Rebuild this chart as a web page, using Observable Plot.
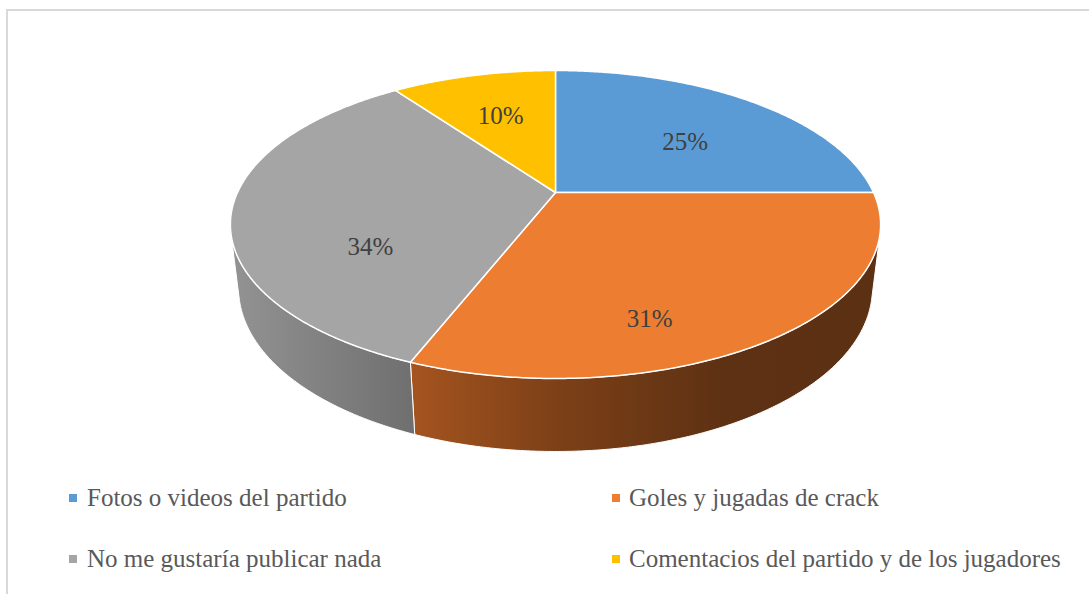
<!DOCTYPE html>
<html>
<head>
<meta charset="utf-8">
<script src="https://cdn.jsdelivr.net/npm/d3@7"></script>
<script src="https://cdn.jsdelivr.net/npm/@observablehq/plot@0.6"></script>
<style>
  html, body { margin: 0; padding: 0; background: #fff; }
  #wrap { position: relative; width: 1089px; height: 594px; overflow: hidden; background: #fff; }
  #frame { position: absolute; left: 6px; top: 9px; width: 1200px; height: 700px; border: 2px solid #D9D9D9; box-sizing: border-box; }
  #chart { position: absolute; left: 0; top: 0; }
  #chart svg text { font-family: "Liberation Serif", "Times New Roman", serif; }
  .leg { position: absolute; font-family: "Liberation Serif", "Times New Roman", serif; font-size: 25px; color: #595959; white-space: nowrap; line-height: 1; }
  .sw { position: absolute; width: 8px; height: 8px; }
</style>
</head>
<body>
<div id="wrap">
  <div id="frame"></div>
  <div id="chart"></div>
  <div id="legend"></div>
</div>
<script>
// ---- data ----
const categories = [
  "Fotos o videos del partido",
  "Goles y jugadas de crack",
  "No me gustaría publicar nada",
  "Comentacios del partido y de los jugadores"
];
const values = [25, 31, 34, 10];
const valueLabels = ["25%", "31%", "34%", "10%"];
const topColors = ["#5B9BD5", "#ED7D31", "#A5A5A5", "#FFC000"];
const sideGradients = [
  ["#4A7FB0", "#2F5375"],
  ["#A5541F", "#7A3F17", "#5E3113", "#5C3013"],
  ["#939393", "#6F6F6F"],
  ["#D29E00", "#8A6800"]
];

// ---- layout / view ----
const W = 1089, H = 470;
const CX = 555, CY = 192, S = 318;          // pixel position of apex and scale of one radius unit
const ELEV = 27.6 * Math.PI / 180;           // camera elevation
const DIST = 4.264;                          // camera distance in radius units
const THICK = 0.228;                         // pie thickness in radius units

const ce = Math.cos(ELEV), se = Math.sin(ELEV);
function project(t, phi, Y) {
  const X = t * Math.sin(phi), Z = -t * Math.cos(phi);
  const d = DIST - Z * ce - Y * se;
  const v = Y * ce - Z * se;
  return [X * DIST / d, v * DIST / d];
}
function arc(a, b, Y) {
  const n = Math.max(2, Math.ceil(Math.abs(b - a) / (Math.PI / 360)));
  const pts = [];
  for (let i = 0; i <= n; i++) pts.push(project(1, a + (b - a) * i / n, Y));
  return pts;
}
const total = d3.sum(values);
const silA = Math.acos(-1 / (DIST * ce));     // silhouette generators of the cylinder
const silB = 2 * Math.PI - silA;

const tops = [], sides = [], labelRows = [];
let acc = 0;
values.forEach((v, i) => {
  const a = acc / total * 2 * Math.PI;
  acc += v;
  const b = acc / total * 2 * Math.PI;
  const topPoly = [[0, 0], ...arc(a, b, 0), [0, 0]];
  topPoly.forEach(([x, y]) => tops.push({id: i, x, y}));
  let polys = [topPoly];
  const sa = Math.max(a, silA), sb = Math.min(b, silB);
  if (sb > sa) {
    const sidePoly = [...arc(sa, sb, 0), ...arc(sa, sb, -THICK).reverse()];
    sidePoly.push(sidePoly[0]);
    sidePoly.forEach(([x, y]) => sides.push({id: i, x, y}));
    polys.push(sidePoly);
  }
  // label at area-weighted centroid of the visible faces of the slice
  let A = 0, gx = 0, gy = 0;
  polys.forEach(p => {
    const ar = Math.abs(d3.polygonArea(p));
    const c = d3.polygonCentroid(p);
    A += ar; gx += c[0] * ar; gy += c[1] * ar;
  });
  labelRows.push({x: gx / A, y: gy / A, text: valueLabels[i]});
});

const marks = [];
d3.groups(sides, d => d.id).forEach(([id, rows]) => {
  marks.push(Plot.line(rows, {x: "x", y: "y", fill: `url(#side${id})`, stroke: "white", strokeWidth: 1, strokeLinejoin: "round"}));
});
d3.groups(tops, d => d.id).forEach(([id, rows]) => {
  marks.push(Plot.line(rows, {x: "x", y: "y", fill: topColors[id], stroke: "white", strokeWidth: 1.5, strokeLinejoin: "round"}));
});
marks.push(Plot.text(labelRows, {
  x: "x", y: "y", text: "text",
  fontFamily: "Liberation Serif", fontSize: 25, fill: "#404040"
}));

const svg = Plot.plot({
  width: W, height: H,
  margin: 0,
  x: {domain: [-CX / S, (W - CX) / S], range: [0, W], axis: null},
  y: {domain: [-(H - CY) / S, CY / S], range: [H, 0], axis: null},
  style: {background: "transparent", overflow: "visible", fontFamily: "Liberation Serif"},
  marks
});

// gradients for the rim faces
const ns = "http://www.w3.org/2000/svg";
const defs = document.createElementNS(ns, "defs");
sideGradients.forEach((stops, i) => {
  const g = document.createElementNS(ns, "linearGradient");
  g.setAttribute("id", `side${i}`);
  g.setAttribute("x1", "0"); g.setAttribute("x2", "1");
  g.setAttribute("y1", "0"); g.setAttribute("y2", "0");
  stops.forEach((c, j) => {
    const s = document.createElementNS(ns, "stop");
    s.setAttribute("offset", j / (stops.length - 1));
    s.setAttribute("stop-color", c);
    g.appendChild(s);
  });
  defs.appendChild(g);
});
svg.insertBefore(defs, svg.firstChild);
document.getElementById("chart").appendChild(svg);

// legend below the plot
const legend = document.getElementById("legend");
const legendPos = [[69, 87, 498], [612, 629, 498], [69, 87, 559], [612, 629, 559]];
categories.forEach((c, i) => {
  const [sx, tx, cy] = legendPos[i];
  const sw = document.createElement("div");
  sw.className = "sw";
  sw.style.left = sx + "px"; sw.style.top = (cy - 4) + "px";
  sw.style.background = topColors[i];
  legend.appendChild(sw);
  const t = document.createElement("div");
  t.className = "leg";
  t.textContent = c;
  t.style.left = tx + "px"; t.style.top = (cy - 13) + "px";
  legend.appendChild(t);
});
</script>
</body>
</html>
